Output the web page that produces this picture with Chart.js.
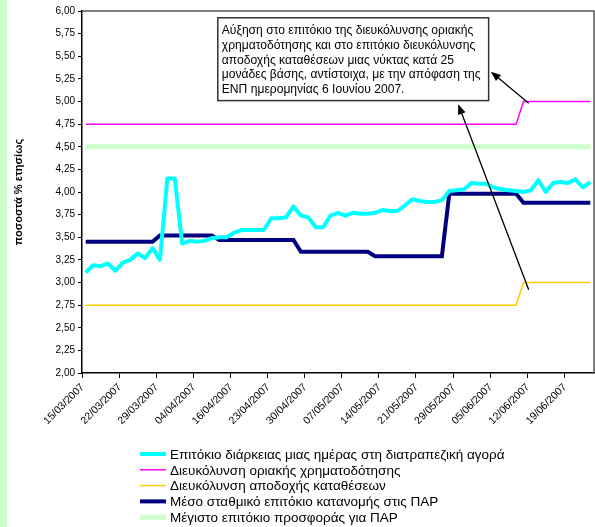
<!DOCTYPE html>
<html>
<head>
<meta charset="utf-8">
<script src="https://cdn.jsdelivr.net/npm/chart.js@4.4.0/dist/chart.umd.min.js"></script>
<style>
  body { margin: 0; background: #fff; }
  canvas { display: block; }
</style>
</head>
<body>
<canvas id="rateChart" width="595" height="527"></canvas>
<script>
// dates of the observations (business days)
const dates = [
  '15/03/2007', '16/03/2007', '19/03/2007', '20/03/2007', '21/03/2007', '22/03/2007', '23/03/2007', '26/03/2007', '27/03/2007', '28/03/2007',
  '29/03/2007', '30/03/2007', '31/03/2007', '02/04/2007', '03/04/2007', '04/04/2007', '05/04/2007', '10/04/2007', '11/04/2007', '12/04/2007',
  '16/04/2007', '17/04/2007', '18/04/2007', '19/04/2007', '20/04/2007', '23/04/2007', '24/04/2007', '25/04/2007', '26/04/2007', '27/04/2007',
  '30/04/2007', '01/05/2007', '02/05/2007', '03/05/2007', '04/05/2007', '07/05/2007', '08/05/2007', '09/05/2007', '10/05/2007', '11/05/2007',
  '14/05/2007', '15/05/2007', '16/05/2007', '17/05/2007', '18/05/2007', '21/05/2007', '22/05/2007', '23/05/2007', '24/05/2007', '25/05/2007',
  '29/05/2007', '30/05/2007', '31/05/2007', '01/06/2007', '04/06/2007', '05/06/2007', '06/06/2007', '07/06/2007', '08/06/2007', '11/06/2007',
  '12/06/2007', '13/06/2007', '14/06/2007', '15/06/2007', '18/06/2007', '19/06/2007', '20/06/2007', '21/06/2007', '22/06/2007'
];

// overnight interbank rate
const overnightRate = [
  3.11, 3.19, 3.18, 3.21, 3.13, 3.22, 3.25, 3.32, 3.27, 3.38,
  3.25, 4.15, 4.15, 3.43, 3.46, 3.45, 3.46, 3.49, 3.50, 3.50,
  3.55, 3.58, 3.58, 3.58, 3.58, 3.71, 3.71, 3.72, 3.84, 3.74,
  3.72, 3.61, 3.61, 3.74, 3.77, 3.74, 3.77, 3.76, 3.76, 3.77,
  3.80, 3.79, 3.79, 3.85, 3.92, 3.90, 3.89, 3.89, 3.91, 4.01,
  4.02, 4.03, 4.10, 4.09, 4.09, 4.05, 4.03, 4.02, 4.01, 4.00,
  4.02, 4.13, 4.00, 4.10, 4.11, 4.10, 4.14, 4.05, 4.11
];

// marginal lending facility
const marginalLending = [
  4.75, 4.75, 4.75, 4.75, 4.75, 4.75, 4.75, 4.75, 4.75, 4.75,
  4.75, 4.75, 4.75, 4.75, 4.75, 4.75, 4.75, 4.75, 4.75, 4.75,
  4.75, 4.75, 4.75, 4.75, 4.75, 4.75, 4.75, 4.75, 4.75, 4.75,
  4.75, 4.75, 4.75, 4.75, 4.75, 4.75, 4.75, 4.75, 4.75, 4.75,
  4.75, 4.75, 4.75, 4.75, 4.75, 4.75, 4.75, 4.75, 4.75, 4.75,
  4.75, 4.75, 4.75, 4.75, 4.75, 4.75, 4.75, 4.75, 4.75, 5.00,
  5.00, 5.00, 5.00, 5.00, 5.00, 5.00, 5.00, 5.00, 5.00
];

// deposit facility
const depositFacility = [
  2.75, 2.75, 2.75, 2.75, 2.75, 2.75, 2.75, 2.75, 2.75, 2.75,
  2.75, 2.75, 2.75, 2.75, 2.75, 2.75, 2.75, 2.75, 2.75, 2.75,
  2.75, 2.75, 2.75, 2.75, 2.75, 2.75, 2.75, 2.75, 2.75, 2.75,
  2.75, 2.75, 2.75, 2.75, 2.75, 2.75, 2.75, 2.75, 2.75, 2.75,
  2.75, 2.75, 2.75, 2.75, 2.75, 2.75, 2.75, 2.75, 2.75, 2.75,
  2.75, 2.75, 2.75, 2.75, 2.75, 2.75, 2.75, 2.75, 2.75, 3.00,
  3.00, 3.00, 3.00, 3.00, 3.00, 3.00, 3.00, 3.00, 3.00
];

// weighted average allotment rate of the LTROs
const ltroAverage = [
  3.45, 3.45, 3.45, 3.45, 3.45, 3.45, 3.45, 3.45, 3.45, 3.45,
  3.52, 3.52, 3.52, 3.52, 3.52, 3.52, 3.52, 3.52, 3.47, 3.47,
  3.47, 3.47, 3.47, 3.47, 3.47, 3.47, 3.47, 3.47, 3.47, 3.34,
  3.34, 3.34, 3.34, 3.34, 3.34, 3.34, 3.34, 3.34, 3.34, 3.29,
  3.29, 3.29, 3.29, 3.29, 3.29, 3.29, 3.29, 3.29, 3.29, 3.98,
  3.98, 3.98, 3.98, 3.98, 3.98, 3.98, 3.98, 3.98, 3.98, 3.88,
  3.88, 3.88, 3.88, 3.88, 3.88, 3.88, 3.88, 3.88, 3.88
];

// maximum bid rate for the LTROs
const ltroMaxBid = [
  4.50, 4.50, 4.50, 4.50, 4.50, 4.50, 4.50, 4.50, 4.50, 4.50,
  4.50, 4.50, 4.50, 4.50, 4.50, 4.50, 4.50, 4.50, 4.50, 4.50,
  4.50, 4.50, 4.50, 4.50, 4.50, 4.50, 4.50, 4.50, 4.50, 4.50,
  4.50, 4.50, 4.50, 4.50, 4.50, 4.50, 4.50, 4.50, 4.50, 4.50,
  4.50, 4.50, 4.50, 4.50, 4.50, 4.50, 4.50, 4.50, 4.50, 4.50,
  4.50, 4.50, 4.50, 4.50, 4.50, 4.50, 4.50, 4.50, 4.50, 4.50,
  4.50, 4.50, 4.50, 4.50, 4.50, 4.50, 4.50, 4.50, 4.50
];

const noteLines = [
  'Αύξηση στο επιτόκιο της διευκόλυνσης οριακής',
  'χρηματοδότησης και στο επιτόκιο διευκόλυνσης',
  'αποδοχής καταθέσεων μιας νύκτας κατά 25',
  'μονάδες βάσης, αντίστοιχα, με την απόφαση της',
  'ΕΝΠ ημερομηνίας 6 Ιουνίου 2007.'
];

const FONT = '"Liberation Sans", Arial, sans-serif';

// note box and arrows, in axis units (category index, percent)
const note = { x0: 17.8, x1: 54.3, yTop: 5.925, yBottom: 5.01 };
const arrows = [
  { from: [59.7, 4.98], to: [54.6, 5.33] },
  { from: [59.7, 2.92], to: [50.2, 4.97] }
];

const extras = {
  id: 'extras',
  beforeDraw(chart) {
    const ctx = chart.ctx;
    ctx.save();
    ctx.fillStyle = '#ccffcc';
    ctx.fillRect(0, 0, 7, chart.height);
    ctx.restore();
  },
  beforeDatasetsDraw(chart) {
    const { ctx, chartArea: a } = chart;
    ctx.save();
    ctx.strokeStyle = '#555';
    ctx.lineWidth = 1.5;
    ctx.beginPath();
    ctx.moveTo(a.left, a.top);
    ctx.lineTo(a.right, a.top);
    ctx.lineTo(a.right, a.bottom);
    ctx.stroke();
    ctx.restore();
  },
  afterDraw(chart) {
    const { ctx, chartArea: a } = chart;
    const xs = chart.scales.x, ys = chart.scales.y;

    // arrows
    ctx.save();
    ctx.strokeStyle = '#000';
    ctx.fillStyle = '#000';
    ctx.lineWidth = 1.3;
    arrows.forEach(ar => {
      const x1 = xs.getPixelForValue(ar.from[0]), y1 = ys.getPixelForValue(ar.from[1]);
      const x2 = xs.getPixelForValue(ar.to[0]), y2 = ys.getPixelForValue(ar.to[1]);
      const ang = Math.atan2(y2 - y1, x2 - x1);
      ctx.beginPath();
      ctx.moveTo(x1, y1);
      ctx.lineTo(x2 - 6 * Math.cos(ang), y2 - 6 * Math.sin(ang));
      ctx.stroke();
      ctx.beginPath();
      ctx.moveTo(x2, y2);
      ctx.lineTo(x2 - 10 * Math.cos(ang) + 4 * Math.sin(ang), y2 - 10 * Math.sin(ang) - 4 * Math.cos(ang));
      ctx.lineTo(x2 - 10 * Math.cos(ang) - 4 * Math.sin(ang), y2 - 10 * Math.sin(ang) + 4 * Math.cos(ang));
      ctx.closePath();
      ctx.fill();
    });

    // note box
    const bx = xs.getPixelForValue(note.x0), bx2 = xs.getPixelForValue(note.x1);
    const by = ys.getPixelForValue(note.yTop), by2 = ys.getPixelForValue(note.yBottom);
    ctx.fillStyle = '#fff';
    ctx.fillRect(bx, by, bx2 - bx, by2 - by);
    ctx.strokeStyle = '#333';
    ctx.lineWidth = 1.5;
    ctx.strokeRect(bx, by, bx2 - bx, by2 - by);
    ctx.fillStyle = '#000';
    ctx.font = '12.1px ' + FONT;
    ctx.textBaseline = 'top';
    ctx.textAlign = 'left';
    noteLines.forEach((t, i) => ctx.fillText(t, bx + 4, by + 7 + i * 14.7));

    // legend, one entry per line
    ctx.font = '13.5px ' + FONT;
    ctx.textBaseline = 'middle';
    chart.data.datasets.forEach((ds, i) => {
      const y = a.bottom + 81 + i * 15.8;
      ctx.strokeStyle = ds.borderColor;
      ctx.lineWidth = ds.borderWidth;
      ctx.beginPath();
      ctx.moveTo(a.left + 58, y);
      ctx.lineTo(a.left + 84, y);
      ctx.stroke();
      ctx.fillStyle = '#000';
      ctx.fillText(ds.label, a.left + 88, y + 1);
    });
    ctx.restore();
  }
};

new Chart(document.getElementById('rateChart'), {
  type: 'line',
  data: {
    labels: dates,
    datasets: [{
      label: 'Επιτόκιο διάρκειας μιας ημέρας στη διατραπεζική αγορά',
      data: overnightRate,
      borderColor: '#00ffff',
      borderWidth: 4,
      borderJoinStyle: 'round'
    }, {
      label: 'Διευκόλυνση οριακής χρηματοδότησης',
      data: marginalLending,
      borderColor: '#ff00ff',
      borderWidth: 1.5
    }, {
      label: 'Διευκόλυνση αποδοχής καταθέσεων',
      data: depositFacility,
      borderColor: '#ffcc00',
      borderWidth: 1.5
    }, {
      label: 'Μέσο σταθμικό επιτόκιο κατανομής στις ΠΑΡ',
      data: ltroAverage,
      borderColor: '#000080',
      borderWidth: 4
    }, {
      label: 'Μέγιστο επιτόκιο προσφοράς για ΠΑΡ',
      data: ltroMaxBid,
      borderColor: '#ccffcc',
      borderWidth: 5
    }]
  },
  options: {
    responsive: false,
    animation: false,
    elements: {
      point: { radius: 0 },
      line: { tension: 0 }
    },
    layout: {
      padding: { top: 11, left: 8, right: 1, bottom: 0 }
    },
    scales: {
      x: {
        offset: true,
        afterFit(scale) {
          scale.height = 154;
          scale.paddingLeft = 0;
          scale.paddingRight = 0;
        },
        grid: {
          offset: true,
          drawOnChartArea: false,
          tickLength: 5,
          color: ctx => (ctx.index % 5 === 0 ? '#000' : 'rgba(0,0,0,0)')
        },
        border: { color: '#000', width: 1.5 },
        ticks: {
          autoSkip: false,
          minRotation: 45,
          maxRotation: 45,
          padding: 3,
          labelOffset: -3,
          color: '#000',
          font: { family: FONT, size: 10.5 },
          callback: (v, i) => (i % 5 === 0 ? dates[i] : '')
        }
      },
      y: {
        min: 2,
        max: 6,
        afterFit(scale) { scale.width = 74; },
        grid: {
          drawOnChartArea: false,
          tickLength: 4,
          color: '#000'
        },
        border: { color: '#000', width: 1.5 },
        ticks: {
          stepSize: 0.25,
          padding: 3,
          color: '#000',
          font: { family: FONT, size: 10 },
          callback: v => v.toFixed(2).replace('.', ',')
        },
        title: {
          display: true,
          text: 'ποσοστά % ετησίως',
          color: '#000',
          font: { family: FONT, size: 11, weight: 'bold' },
          padding: { top: 4, bottom: 0 }
        }
      }
    },
    plugins: {
      legend: { display: false },
      tooltip: { enabled: false }
    }
  },
  plugins: [extras]
});
</script>
</body>
</html>
